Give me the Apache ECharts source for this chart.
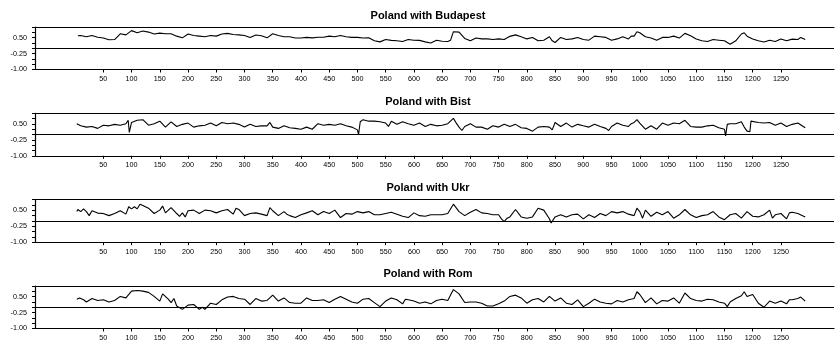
<!DOCTYPE html>
<html>
<head>
<meta charset="utf-8">
<script src="https://cdn.jsdelivr.net/npm/echarts@6/dist/echarts.min.js"></script>
<style>
  html, body { margin: 0; padding: 0; background: #fff; }
  #chart { width: 835px; height: 343px; }
</style>
</head>
<body>
<div id="chart"></div>
<script>
// Rolling correlation of Poland with four other markets, [observation, correlation]
const titles = ['Poland with Budapest', 'Poland with Bist', 'Poland with Ukr', 'Poland with Rom'];

const budapest = [[5,0.59],[10,0.60],[20,0.54],[30,0.60],[40,0.52],[50,0.48],[60,0.40],[70,0.41],[80,0.68],[90,0.63],[100,0.83],[110,0.73],[120,0.81],[130,0.76],[140,0.67],[150,0.71],[160,0.68],[170,0.68],[180,0.57],[190,0.49],[200,0.67],[210,0.60],[220,0.57],[230,0.54],[240,0.60],[250,0.57],[260,0.67],[270,0.70],[280,0.65],[290,0.63],[300,0.60],[310,0.51],[320,0.62],[330,0.59],[340,0.49],[350,0.68],[360,0.60],[370,0.54],[380,0.54],[390,0.48],[400,0.48],[410,0.51],[420,0.49],[430,0.52],[440,0.52],[450,0.57],[460,0.54],[470,0.60],[480,0.54],[490,0.51],[500,0.51],[510,0.48],[520,0.49],[530,0.35],[540,0.30],[550,0.41],[560,0.37],[570,0.35],[580,0.32],[590,0.41],[600,0.38],[610,0.37],[620,0.30],[630,0.25],[640,0.38],[650,0.33],[660,0.32],[665,0.38],[670,0.78],[680,0.76],[690,0.46],[700,0.35],[710,0.48],[720,0.44],[730,0.44],[740,0.41],[750,0.44],[760,0.41],[770,0.56],[780,0.63],[790,0.54],[800,0.44],[810,0.51],[820,0.35],[830,0.38],[840,0.54],[845,0.35],[850,0.27],[860,0.51],[870,0.41],[880,0.44],[890,0.51],[900,0.41],[910,0.38],[920,0.57],[930,0.54],[940,0.51],[950,0.38],[960,0.44],[970,0.54],[980,0.44],[985,0.57],[990,0.57],[995,0.78],[1000,0.73],[1010,0.54],[1020,0.48],[1030,0.38],[1040,0.51],[1050,0.51],[1060,0.57],[1070,0.48],[1080,0.70],[1090,0.59],[1100,0.44],[1110,0.35],[1120,0.32],[1130,0.41],[1140,0.38],[1150,0.35],[1160,0.19],[1170,0.35],[1180,0.67],[1185,0.73],[1190,0.57],[1200,0.44],[1210,0.35],[1220,0.29],[1230,0.38],[1240,0.32],[1250,0.44],[1260,0.35],[1270,0.43],[1280,0.41],[1285,0.51],[1293,0.41]];

const bist = [[3,0.51],[10,0.41],[20,0.35],[30,0.38],[40,0.29],[50,0.44],[60,0.41],[70,0.48],[80,0.44],[90,0.51],[94,0.67],[96,0.10],[100,0.57],[110,0.67],[120,0.70],[130,0.44],[140,0.51],[150,0.63],[160,0.35],[170,0.60],[180,0.38],[190,0.48],[200,0.54],[210,0.35],[220,0.41],[230,0.44],[240,0.54],[250,0.41],[260,0.57],[270,0.51],[280,0.54],[290,0.48],[300,0.35],[310,0.48],[320,0.38],[330,0.41],[340,0.41],[345,0.57],[350,0.35],[360,0.29],[370,0.41],[380,0.32],[390,0.29],[400,0.25],[410,0.35],[420,0.25],[430,0.51],[440,0.44],[450,0.48],[460,0.44],[470,0.51],[480,0.41],[490,0.35],[500,0.22],[502,0.0],[505,0.60],[510,0.70],[520,0.63],[530,0.63],[540,0.60],[550,0.54],[555,0.38],[560,0.63],[570,0.48],[580,0.60],[590,0.51],[600,0.44],[610,0.54],[620,0.38],[630,0.48],[640,0.41],[650,0.44],[660,0.51],[670,0.76],[675,0.54],[680,0.35],[685,0.19],[690,0.38],[700,0.51],[710,0.35],[720,0.35],[730,0.25],[740,0.41],[750,0.35],[760,0.48],[770,0.38],[780,0.48],[790,0.32],[800,0.29],[810,0.16],[820,0.35],[830,0.38],[840,0.35],[845,0.22],[850,0.57],[860,0.38],[870,0.54],[880,0.35],[890,0.48],[900,0.41],[910,0.35],[920,0.48],[930,0.38],[940,0.29],[945,0.19],[950,0.38],[960,0.54],[970,0.44],[980,0.38],[985,0.51],[990,0.57],[995,0.70],[1000,0.54],[1010,0.25],[1020,0.41],[1030,0.25],[1040,0.54],[1050,0.44],[1060,0.54],[1070,0.51],[1080,0.67],[1090,0.38],[1100,0.35],[1110,0.35],[1120,0.41],[1130,0.44],[1140,0.32],[1150,0.25],[1152,-0.06],[1155,0.48],[1160,0.51],[1170,0.51],[1180,0.60],[1185,0.35],[1190,0.16],[1195,0.13],[1197,0.63],[1200,0.70],[1210,0.57],[1220,0.54],[1230,0.57],[1240,0.44],[1250,0.54],[1260,0.38],[1270,0.48],[1280,0.54],[1293,0.32]];

const ukr = [[3,0.44],[5,0.54],[10,0.44],[15,0.57],[20,0.44],[25,0.25],[30,0.48],[40,0.37],[50,0.35],[60,0.25],[70,0.35],[80,0.48],[90,0.32],[95,0.67],[100,0.57],[105,0.67],[110,0.57],[115,0.79],[120,0.73],[130,0.60],[140,0.35],[150,0.51],[155,0.70],[160,0.38],[170,0.63],[180,0.35],[185,0.22],[190,0.38],[195,0.19],[200,0.48],[210,0.51],[220,0.35],[230,0.51],[240,0.48],[250,0.38],[260,0.48],[270,0.54],[280,0.32],[285,0.60],[290,0.54],[300,0.25],[310,0.35],[320,0.38],[330,0.32],[340,0.25],[345,0.63],[350,0.48],[360,0.25],[370,0.44],[375,0.32],[380,0.25],[390,0.16],[400,0.29],[410,0.38],[420,0.48],[430,0.29],[440,0.44],[450,0.35],[460,0.51],[470,0.16],[480,0.35],[490,0.32],[500,0.44],[510,0.38],[520,0.44],[530,0.29],[540,0.29],[550,0.35],[560,0.41],[570,0.32],[580,0.22],[590,0.16],[600,0.38],[610,0.25],[620,0.22],[630,0.29],[640,0.29],[650,0.29],[660,0.35],[670,0.79],[680,0.44],[690,0.25],[700,0.41],[710,0.54],[720,0.38],[730,0.35],[740,0.29],[750,0.29],[755,0.10],[760,-0.03],[765,0.13],[770,0.19],[780,0.54],[790,0.19],[800,0.13],[810,0.19],[820,0.60],[830,0.51],[840,0.10],[843,-0.10],[850,0.19],[860,0.29],[870,0.19],[880,0.29],[890,0.32],[900,0.10],[910,0.29],[920,0.16],[930,0.35],[940,0.25],[950,0.44],[960,0.38],[970,0.44],[980,0.32],[990,0.25],[995,0.60],[1000,0.44],[1005,0.13],[1010,0.51],[1020,0.22],[1030,0.41],[1040,0.29],[1050,0.44],[1060,0.13],[1070,0.29],[1080,0.54],[1090,0.29],[1100,0.16],[1110,0.25],[1120,0.29],[1130,0.44],[1140,0.19],[1150,0.06],[1160,0.29],[1170,0.35],[1180,0.13],[1190,0.44],[1200,0.22],[1210,0.19],[1220,0.29],[1230,0.51],[1235,0.13],[1240,0.29],[1250,0.35],[1260,0.10],[1265,0.38],[1270,0.41],[1280,0.35],[1293,0.19]];

const rom = [[3,0.38],[8,0.44],[15,0.35],[20,0.25],[30,0.41],[40,0.32],[50,0.35],[60,0.25],[70,0.32],[80,0.51],[90,0.44],[100,0.76],[110,0.79],[120,0.76],[130,0.70],[140,0.51],[150,0.29],[155,0.63],[165,0.38],[170,0.22],[175,0.41],[180,0.06],[190,-0.10],[200,0.10],[210,0.13],[220,-0.10],[225,0.0],[230,-0.10],[240,0.19],[250,0.13],[260,0.35],[270,0.48],[280,0.51],[290,0.41],[300,0.38],[310,0.13],[320,0.41],[330,0.29],[340,0.32],[350,0.57],[360,0.29],[370,0.44],[380,0.22],[390,0.19],[400,0.19],[410,0.44],[420,0.32],[430,0.32],[440,0.35],[450,0.22],[460,0.38],[470,0.51],[480,0.38],[490,0.25],[500,0.19],[510,0.38],[520,0.41],[530,0.22],[540,0.03],[550,0.29],[560,0.44],[570,0.35],[580,0.16],[585,0.38],[590,0.35],[600,0.29],[610,0.19],[620,0.25],[630,0.16],[640,0.32],[650,0.38],[660,0.32],[670,0.83],[680,0.63],[690,0.22],[700,0.25],[710,0.25],[720,0.19],[730,0.06],[740,0.06],[750,0.16],[760,0.29],[770,0.51],[780,0.57],[790,0.44],[800,0.19],[810,0.35],[820,0.41],[830,0.25],[840,0.51],[850,0.29],[860,0.44],[870,0.19],[880,0.13],[890,0.35],[900,0.03],[910,0.19],[920,0.38],[930,0.25],[940,0.19],[950,0.16],[960,0.32],[970,0.25],[980,0.35],[990,0.41],[995,0.73],[1000,0.60],[1010,0.22],[1020,0.44],[1030,0.16],[1040,0.32],[1050,0.29],[1060,0.44],[1070,0.19],[1080,0.67],[1090,0.41],[1100,0.32],[1110,0.29],[1120,0.38],[1130,0.35],[1140,0.25],[1150,0.19],[1155,0.03],[1160,0.25],[1170,0.41],[1180,0.54],[1185,0.73],[1190,0.51],[1200,0.60],[1210,0.19],[1220,0.0],[1230,0.29],[1240,0.19],[1250,0.29],[1260,0.16],[1265,0.35],[1270,0.35],[1280,0.41],[1285,0.48],[1293,0.29]];

const xTicks = [50,100,150,200,250,300,350,400,450,500,550,600,650,700,750,800,850,900,950,1000,1050,1100,1150,1200,1250];
const yLabelled = [-1.00, -0.25, 0.50];

const seriesData = [budapest, bist, ukr, rom];

// layout of the four stacked panels
const panelTop = [27, 113.3, 199.7, 286];
const panelHeight = 42.5;
const titleMid = [15.5, 101.8, 188.1, 274.4];
const font = 'Liberation Sans, Arial, sans-serif';

const option = { animation: false, backgroundColor: '#fff', title: [], grid: [], xAxis: [], yAxis: [], series: [] };

seriesData.forEach((data, i) => {
  option.title.push({
    text: titles[i], left: 428, top: titleMid[i], padding: 0,
    textAlign: 'center', textVerticalAlign: 'middle',
    textStyle: { fontFamily: font, fontSize: 11, fontWeight: 'bold', color: '#000' }
  });
  option.grid.push({ left: 35, right: 1, top: panelTop[i], height: panelHeight, outerBoundsMode: 'none', containLabel: false });
  // bottom axis with ticks and labels
  option.xAxis.push({
    type: 'value', gridIndex: i, min: -71, max: 1344, position: 'bottom',
    splitLine: { show: false },
    axisLine: { show: true, onZero: false, lineStyle: { color: '#000', width: 1.2 } },
    axisTick: { show: true, customValues: xTicks, length: 3, lineStyle: { color: '#000' } },
    axisLabel: {
      show: true, customValues: xTicks, margin: 6, fontSize: 7.2, fontFamily: font, color: '#000',
      formatter: v => String(v)
    }
  });
  // top edge of the panel frame
  option.xAxis.push({
    type: 'value', gridIndex: i, min: -71, max: 1344, position: 'top',
    splitLine: { show: false },
    axisLine: { show: true, onZero: false, lineStyle: { color: '#000', width: 1.2 } },
    axisTick: { show: false }, axisLabel: { show: false }
  });
  option.yAxis.push({
    type: 'value', gridIndex: i, min: -1, max: 1, interval: 0.25,
    splitLine: { show: false },
    axisLine: { show: true, onZero: false, lineStyle: { color: '#000', width: 1.2 } },
    axisTick: { show: true, length: 3, lineStyle: { color: '#000' } },
    axisLabel: {
      margin: 8, fontSize: 7.2, fontFamily: font, color: '#000',
      formatter: v => yLabelled.some(t => Math.abs(t - v) < 1e-6) ? v.toFixed(2) : ''
    }
  });
  option.series.push({
    type: 'line', xAxisIndex: i * 2, yAxisIndex: i, data: data,
    showSymbol: false, symbol: 'none', silent: true,
    lineStyle: { color: '#000', width: 1.1 },
    markLine: {
      silent: true, symbol: 'none', label: { show: false },
      lineStyle: { color: '#000', width: 1.2, type: 'solid' },
      data: [{ yAxis: 0 }]
    }
  });
});

const chart = echarts.init(document.getElementById('chart'), null, { renderer: 'canvas' });
chart.setOption(option);
</script>
</body>
</html>
